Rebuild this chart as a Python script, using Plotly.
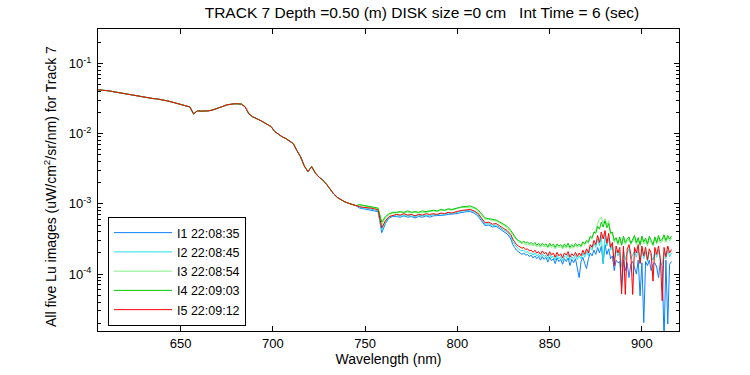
import plotly.graph_objects as go

# Wavelength grid (nm): 2 nm steps to 829 nm, 1 nm steps from 830 nm
wavelength_nm = list(range(605, 831, 2)) + list(range(830, 917))

# Shared part of all five spectra, 605-745 nm (uW/cm^2/sr/nm)
lu_common = [
    0.0422, 0.0419, 0.0415, 0.0407, 0.0398, 0.0389, 0.0385, 0.0376, 0.0367, 0.0359,
    0.0351, 0.0343, 0.0335, 0.0327, 0.0322, 0.0316, 0.0313, 0.0308, 0.0299, 0.0292,
    0.0283, 0.0275, 0.0266, 0.0257, 0.0248, 0.0240, 0.0191, 0.0211, 0.0209, 0.0209,
    0.0211, 0.0216, 0.0224, 0.0232, 0.0245, 0.0257, 0.0264, 0.0266, 0.0266, 0.0263,
    0.0240, 0.0191, 0.0174, 0.0166, 0.0155, 0.0145, 0.0135, 0.0126, 0.0107, 0.00977,
    0.00902, 0.00851, 0.00794, 0.00724, 0.00575, 0.00468, 0.00347, 0.00288, 0.00339, 0.00275,
    0.00240, 0.00219, 0.00191, 0.00162, 0.00138, 0.00123, 0.00114, 0.00107, 0.00102, 0.000977,
    0.000944,
]

# 747-829 nm (2 nm steps)
lu_i1_mid = [
    8.71e-4, 8.51e-4, 8.51e-4, 8.32e-4, 8.13e-4, 7.76e-4, 3.89e-4, 5.25e-4, 6.31e-4, 6.61e-4,
    6.61e-4, 6.46e-4, 6.76e-4, 6.46e-4, 6.61e-4, 6.31e-4, 6.61e-4, 6.46e-4, 6.76e-4, 6.46e-4,
    6.76e-4, 6.76e-4, 6.92e-4, 6.92e-4, 7.08e-4, 7.08e-4, 7.24e-4, 7.41e-4, 7.59e-4, 7.76e-4,
    7.76e-4, 7.41e-4, 6.76e-4, 5.75e-4, 4.90e-4, 5.01e-4, 4.68e-4, 4.79e-4, 4.37e-4, 3.98e-4,
    3.72e-4, 3.16e-4,
]
lu_i2_mid = [
    8.91e-4, 8.71e-4, 8.71e-4, 8.51e-4, 8.32e-4, 7.94e-4, 4.27e-4, 5.50e-4, 6.46e-4, 6.76e-4,
    6.76e-4, 6.76e-4, 6.92e-4, 6.76e-4, 6.76e-4, 6.61e-4, 6.92e-4, 6.76e-4, 6.92e-4, 6.76e-4,
    7.08e-4, 6.92e-4, 7.24e-4, 7.08e-4, 7.41e-4, 7.24e-4, 7.59e-4, 7.76e-4, 7.94e-4, 7.94e-4,
    8.13e-4, 7.76e-4, 7.08e-4, 6.03e-4, 5.13e-4, 5.25e-4, 4.90e-4, 5.01e-4, 4.57e-4, 4.27e-4,
    3.98e-4, 3.39e-4,
]
lu_i3_mid = [
    9.55e-4, 9.33e-4, 9.12e-4, 9.12e-4, 8.91e-4, 8.51e-4, 5.13e-4, 6.31e-4, 7.08e-4, 7.41e-4,
    7.41e-4, 7.59e-4, 7.41e-4, 7.59e-4, 7.41e-4, 7.59e-4, 7.41e-4, 7.59e-4, 7.59e-4, 7.76e-4,
    7.94e-4, 7.76e-4, 8.13e-4, 7.94e-4, 8.32e-4, 8.13e-4, 8.51e-4, 8.71e-4, 8.91e-4, 8.91e-4,
    8.91e-4, 8.71e-4, 7.94e-4, 6.92e-4, 6.03e-4, 6.03e-4, 5.75e-4, 5.75e-4, 5.25e-4, 4.90e-4,
    4.57e-4, 3.98e-4,
]
lu_i4_mid = [
    9.77e-4, 9.55e-4, 9.33e-4, 9.33e-4, 9.12e-4, 8.71e-4, 5.50e-4, 6.61e-4, 7.24e-4, 7.59e-4,
    7.59e-4, 7.76e-4, 7.59e-4, 7.94e-4, 7.59e-4, 7.76e-4, 7.59e-4, 7.94e-4, 7.76e-4, 7.94e-4,
    8.13e-4, 7.94e-4, 8.32e-4, 8.13e-4, 8.51e-4, 8.32e-4, 8.71e-4, 8.91e-4, 9.12e-4, 9.12e-4,
    9.33e-4, 8.91e-4, 8.32e-4, 7.24e-4, 6.31e-4, 6.17e-4, 6.03e-4, 5.89e-4, 5.50e-4, 5.13e-4,
    4.79e-4, 4.17e-4,
]
lu_i5_mid = [
    9.12e-4, 8.91e-4, 8.91e-4, 8.71e-4, 8.51e-4, 8.13e-4, 4.57e-4, 5.75e-4, 6.61e-4, 6.92e-4,
    7.08e-4, 6.92e-4, 7.24e-4, 6.92e-4, 7.08e-4, 6.76e-4, 7.08e-4, 6.92e-4, 7.24e-4, 7.08e-4,
    7.24e-4, 7.08e-4, 7.41e-4, 7.24e-4, 7.59e-4, 7.41e-4, 7.76e-4, 7.94e-4, 8.13e-4, 8.32e-4,
    8.32e-4, 7.94e-4, 7.41e-4, 6.31e-4, 5.37e-4, 5.50e-4, 5.13e-4, 5.25e-4, 4.79e-4, 4.47e-4,
    4.17e-4, 3.63e-4,
]

# 830-916 nm (1 nm steps)
lu_i1_noisy = [
    2.63e-4, 2.40e-4, 2.19e-4, 2.09e-4, 2.00e-4, 1.91e-4, 2.00e-4, 1.86e-4, 1.91e-4, 1.78e-4,
    1.86e-4, 1.70e-4, 1.82e-4, 1.66e-4, 1.78e-4, 1.58e-4, 1.78e-4, 1.62e-4, 1.74e-4, 1.48e-4,
    1.74e-4, 1.55e-4, 1.66e-4, 1.41e-4, 1.70e-4, 1.51e-4, 1.62e-4, 1.38e-4, 1.66e-4, 1.51e-4,
    1.70e-4, 1.32e-4, 1.62e-4, 1.45e-4, 1.66e-4, 1.20e-4, 8.91e-5, 1.51e-4, 1.74e-4, 1.41e-4,
    1.20e-4, 1.66e-4, 2.00e-4, 1.82e-4, 2.19e-4, 1.91e-4, 2.40e-4, 2.00e-4, 2.51e-4, 1.41e-4,
    2.63e-4, 1.91e-4, 2.29e-4, 1.66e-4, 1.82e-4, 1.12e-4, 1.58e-4, 1.45e-4, 1.51e-4, 6.46e-5,
    1.58e-4, 1.12e-4, 1.45e-4, 8.91e-5, 1.38e-4, 1.51e-4, 1.26e-4, 1.00e-4, 1.58e-4, 4.90e-5,
    1.45e-4, 2.04e-5, 1.51e-4, 1.32e-4, 1.58e-4, 1.12e-4, 1.38e-4, 1.45e-4, 1.26e-4, 8.91e-5,
    1.51e-4, 1.32e-4, 1.12e-5, 1.58e-4, 1.95e-5, 1.38e-4, 1.51e-4,
]
lu_i2_noisy = [
    2.88e-4, 2.63e-4, 2.40e-4, 2.29e-4, 2.19e-4, 2.14e-4, 2.19e-4, 2.04e-4, 2.09e-4, 1.95e-4,
    2.00e-4, 1.86e-4, 2.00e-4, 1.82e-4, 1.91e-4, 1.74e-4, 1.95e-4, 1.78e-4, 1.86e-4, 1.66e-4,
    1.91e-4, 1.70e-4, 1.82e-4, 1.58e-4, 1.86e-4, 1.66e-4, 1.78e-4, 1.55e-4, 1.82e-4, 1.70e-4,
    1.91e-4, 1.58e-4, 1.78e-4, 1.66e-4, 1.86e-4, 1.62e-4, 1.82e-4, 1.66e-4, 2.00e-4, 1.74e-4,
    2.09e-4, 1.82e-4, 2.40e-4, 2.19e-4, 2.75e-4, 2.40e-4, 3.16e-4, 2.51e-4, 3.55e-4, 1.41e-4,
    3.63e-4, 2.51e-4, 3.31e-4, 2.19e-4, 2.51e-4, 1.58e-4, 2.19e-4, 1.82e-4, 2.09e-4, 1.26e-4,
    2.19e-4, 1.58e-4, 2.00e-4, 2.29e-4, 1.66e-4, 1.91e-4, 2.14e-4, 1.74e-4, 2.29e-4, 1.45e-4,
    2.19e-4, 1.66e-4, 2.09e-4, 1.51e-4, 2.04e-4, 1.82e-4, 1.58e-4, 2.09e-4, 1.74e-4, 2.19e-4,
    1.51e-4, 1.38e-4, 2.09e-4, 1.66e-4, 2.19e-4, 1.78e-4, 2.00e-4,
]
lu_i3_noisy = [
    3.63e-4, 3.31e-4, 3.02e-4, 2.88e-4, 2.82e-4, 2.69e-4, 2.75e-4, 2.63e-4, 2.69e-4, 2.57e-4,
    2.63e-4, 2.51e-4, 2.63e-4, 2.45e-4, 2.57e-4, 2.40e-4, 2.57e-4, 2.45e-4, 2.51e-4, 2.34e-4,
    2.57e-4, 2.40e-4, 2.51e-4, 2.29e-4, 2.51e-4, 2.40e-4, 2.45e-4, 2.29e-4, 2.51e-4, 2.34e-4,
    2.57e-4, 2.29e-4, 2.45e-4, 2.34e-4, 2.57e-4, 2.40e-4, 2.51e-4, 2.40e-4, 2.75e-4, 2.57e-4,
    2.88e-4, 2.75e-4, 3.31e-4, 3.16e-4, 3.98e-4, 4.17e-4, 5.25e-4, 6.03e-4, 6.46e-4, 5.25e-4,
    6.17e-4, 5.01e-4, 5.75e-4, 3.98e-4, 3.63e-4, 2.82e-4, 3.16e-4, 2.63e-4, 3.16e-4, 2.51e-4,
    3.24e-4, 2.63e-4, 2.95e-4, 3.16e-4, 2.63e-4, 2.95e-4, 3.31e-4, 2.63e-4, 3.09e-4, 2.51e-4,
    3.24e-4, 2.69e-4, 3.02e-4, 2.51e-4, 3.24e-4, 2.82e-4, 2.51e-4, 3.16e-4, 2.69e-4, 3.31e-4,
    2.75e-4, 2.95e-4, 3.39e-4, 2.82e-4, 3.31e-4, 2.95e-4, 3.24e-4,
]
lu_i4_noisy = [
    3.80e-4, 3.47e-4, 3.16e-4, 3.02e-4, 2.95e-4, 2.82e-4, 2.95e-4, 2.75e-4, 2.88e-4, 2.69e-4,
    2.82e-4, 2.63e-4, 2.82e-4, 2.57e-4, 2.75e-4, 2.51e-4, 2.75e-4, 2.57e-4, 2.69e-4, 2.45e-4,
    2.75e-4, 2.51e-4, 2.69e-4, 2.40e-4, 2.69e-4, 2.51e-4, 2.63e-4, 2.40e-4, 2.69e-4, 2.45e-4,
    2.75e-4, 2.40e-4, 2.63e-4, 2.45e-4, 2.75e-4, 2.51e-4, 2.69e-4, 2.51e-4, 2.88e-4, 2.69e-4,
    3.02e-4, 2.88e-4, 3.47e-4, 3.31e-4, 3.98e-4, 3.80e-4, 4.79e-4, 4.37e-4, 5.50e-4, 4.68e-4,
    5.75e-4, 4.57e-4, 5.25e-4, 3.80e-4, 3.98e-4, 3.02e-4, 3.31e-4, 2.75e-4, 3.39e-4, 2.63e-4,
    3.47e-4, 2.82e-4, 3.16e-4, 3.39e-4, 2.75e-4, 3.16e-4, 3.55e-4, 2.82e-4, 3.31e-4, 2.63e-4,
    3.47e-4, 2.88e-4, 3.24e-4, 2.69e-4, 3.47e-4, 3.02e-4, 2.63e-4, 3.39e-4, 2.82e-4, 3.55e-4,
    2.95e-4, 3.16e-4, 3.63e-4, 3.02e-4, 3.55e-4, 3.16e-4, 3.47e-4,
]
lu_i5_noisy = [
    3.16e-4, 2.82e-4, 2.63e-4, 2.51e-4, 2.40e-4, 2.34e-4, 2.40e-4, 2.24e-4, 2.29e-4, 2.14e-4,
    2.19e-4, 2.04e-4, 2.19e-4, 2.00e-4, 2.09e-4, 1.91e-4, 2.14e-4, 1.95e-4, 2.04e-4, 1.82e-4,
    2.09e-4, 1.86e-4, 2.00e-4, 1.74e-4, 2.04e-4, 1.82e-4, 1.95e-4, 1.70e-4, 2.00e-4, 1.86e-4,
    2.09e-4, 1.74e-4, 1.95e-4, 1.82e-4, 2.04e-4, 1.78e-4, 2.00e-4, 1.82e-4, 2.19e-4, 1.91e-4,
    2.29e-4, 2.00e-4, 2.63e-4, 2.40e-4, 3.02e-4, 2.63e-4, 3.55e-4, 2.82e-4, 3.98e-4, 3.16e-4,
    4.17e-4, 2.75e-4, 3.80e-4, 2.40e-4, 2.82e-4, 1.32e-4, 2.51e-4, 2.00e-4, 2.40e-4, 5.25e-5,
    2.51e-4, 5.13e-5, 2.24e-4, 2.63e-4, 1.91e-4, 5.13e-5, 2.40e-4, 2.00e-4, 2.63e-4, 1.41e-4,
    2.51e-4, 1.82e-4, 2.40e-4, 1.58e-4, 2.29e-4, 2.00e-4, 7.94e-5, 2.40e-4, 1.91e-4, 2.51e-4,
    1.66e-4, 4.17e-5, 2.40e-4, 1.78e-4, 2.51e-4, 2.00e-4, 2.24e-4,
]

series_names = ["I1 22:08:35", "I2 22:08:45", "I3 22:08:54", "I4 22:09:03", "I5 22:09:12"]
series_values = [
    lu_common + lu_i1_mid + lu_i1_noisy,
    lu_common + lu_i2_mid + lu_i2_noisy,
    lu_common + lu_i3_mid + lu_i3_noisy,
    lu_common + lu_i4_mid + lu_i4_noisy,
    lu_common + lu_i5_mid + lu_i5_noisy,
]
series_colors = ["#0A80FF", "#22E0E8", "#80F080", "#00C800", "#FF0000"]

x_tick_vals = [650, 700, 750, 800, 850, 900]
y_tick_vals = [1e-1, 1e-2, 1e-3, 1e-4]
y_tick_text = ["10<sup>-1</sup>", "10<sup>-2</sup>", "10<sup>-3</sup>", "10<sup>-4</sup>"]
y_minor_vals = [m * 10.0 ** e for e in (-5, -4, -3, -2, -1) for m in range(2, 10)]

FONT = "Liberation Sans, Arial, Helvetica, sans-serif"

fig = go.Figure()
for name, vals, col in zip(series_names, series_values, series_colors):
    fig.add_trace(go.Scatter(x=wavelength_nm, y=vals, mode="lines", name=name,
                             line=dict(color=col, width=1)))

W, H = 750, 375
L, R, T, B = 98, 71, 29, 44
pw, ph = W - L - R, H - T - B

fig.update_layout(
    width=W, height=H, autosize=False,
    margin=dict(l=L, r=R, t=T, b=B, pad=0),
    paper_bgcolor="white", plot_bgcolor="white",
    font=dict(family=FONT, size=13, color="black"),
    title=dict(text="TRACK 7 Depth =0.50 (m) DISK size =0 cm   Int Time = 6 (sec)",
               xref="paper", x=(422 - L) / pw, xanchor="center",
               yref="container", y=1 - 12.5 / H, yanchor="middle",
               font=dict(family=FONT, size=15.5, color="black")),
    showlegend=True,
    legend=dict(x=(108 - L) / pw, y=(331 - 217) / ph, xanchor="left", yanchor="top",
                bordercolor="black", borderwidth=1, bgcolor="white",
                font=dict(family=FONT, size=12.5, color="black"),
                itemwidth=58, tracegroupgap=0),
    hovermode=False,
)

fig.update_xaxes(
    range=[605.2, 920.1], tickvals=x_tick_vals, ticks="inside", ticklen=5,
    tickcolor="black", showline=True, linecolor="black", linewidth=1, mirror="allticks",
    showgrid=False, zeroline=False, tickfont=dict(family=FONT, size=13),
    title=dict(text="Wavelength (nm)", standoff=4, font=dict(family=FONT, size=14)),
)
fig.update_yaxes(
    type="log", range=[-4.81, -0.51], tickvals=y_tick_vals, ticktext=y_tick_text,
    ticks="inside", ticklen=5, tickcolor="black", showline=True, linecolor="black",
    linewidth=1, mirror="allticks", showgrid=False, zeroline=False,
    tickfont=dict(family=FONT, size=13), ticklabelstandoff=3,
    minor=dict(tickvals=y_minor_vals, ticks="inside", ticklen=3, tickcolor="black", showgrid=False),
)

fig.add_annotation(
    text="All five Lu images (uW/cm<sup>2</sup>/sr/nm) for Track 7",
    xref="paper", yref="paper", x=(50 - L) / pw, y=(331 - 187) / ph,
    xanchor="center", yanchor="middle", textangle=-90, showarrow=False,
    font=dict(family=FONT, size=14, color="black"),
)

# remove the default 8px page margin so the figure sits at the window origin
fig.write_html("out.html", config={"displayModeBar": False},
               post_script="document.body.style.margin='0px';")
